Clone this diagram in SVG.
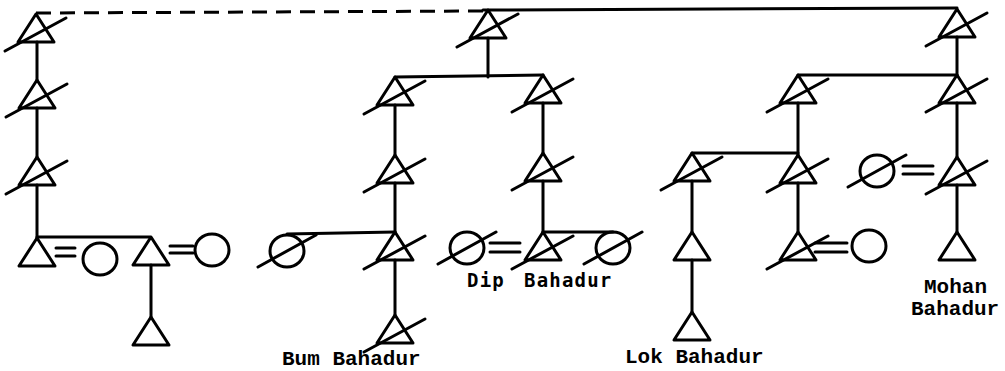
<svg xmlns="http://www.w3.org/2000/svg" xmlns:xlink="http://www.w3.org/1999/xlink" width="1005" height="371" viewBox="0 0 1005 371">
  <style>
    .ln { stroke: #000; stroke-width: 3; fill: none; stroke-linecap: round; }
    .dash { stroke: #000; stroke-width: 3; fill: none; stroke-dasharray: 15 9; }
    .lbl { font-family: "Liberation Mono", "Courier New", monospace; font-weight: bold; font-size: 21px; fill: #000; }
    .lbl2 { font-family: "DejaVu Sans Mono", monospace; font-weight: bold; font-size: 19px; fill: #000; letter-spacing: 1.2px; }
  </style>
  <defs>
    <!-- male: apex at origin -->
    <g id="male">
      <path class="ln" d="M0,0 L-18,28 L18,28 Z" stroke-linejoin="round"/>
    </g>
    <!-- deceased male -->
    <g id="maleD">
      <path class="ln" d="M0,0 L-18,28 L18,28 Z" stroke-linejoin="round"/>
      <line class="ln" x1="-31" y1="37" x2="30" y2="4"/>
    </g>
    <!-- female: centre at origin -->
    <g id="female">
      <ellipse class="ln" cx="0" cy="0" rx="17" ry="16"/>
    </g>
    <!-- deceased female -->
    <g id="femaleD">
      <ellipse class="ln" cx="0" cy="0" rx="17" ry="16"/>
      <line class="ln" x1="-29" y1="16" x2="29" y2="-16"/>
    </g>
  </defs>

  <g id="connectors">
    <!-- top line -->
    <line class="dash" x1="36" y1="13" x2="483" y2="11"/>
    <line class="ln" x1="483" y1="10" x2="957" y2="8"/>
    <!-- left line -->
    <line class="ln" x1="37" y1="42" x2="37" y2="80"/>
    <line class="ln" x1="37" y1="108" x2="37" y2="157"/>
    <line class="ln" x1="37" y1="185" x2="37" y2="238"/>
    <line class="ln" x1="37" y1="237" x2="150" y2="237"/>
    <line class="ln" x1="151" y1="265" x2="151" y2="317"/>
    <line class="ln" x1="56" y1="248" x2="75" y2="248"/>
    <line class="ln" x1="56" y1="256" x2="75" y2="256"/>
    <line class="ln" x1="170" y1="246" x2="193" y2="246"/>
    <line class="ln" x1="170" y1="253" x2="193" y2="253"/>
    <!-- centre line -->
    <line class="ln" x1="488" y1="38" x2="488" y2="77"/>
    <line class="ln" x1="395" y1="77" x2="543" y2="75"/>
    <line class="ln" x1="395" y1="105" x2="395" y2="155"/>
    <line class="ln" x1="395" y1="183" x2="395" y2="232"/>
    <line class="ln" x1="287" y1="234" x2="395" y2="232"/>
    <line class="ln" x1="395" y1="260" x2="395" y2="315"/>
    <line class="ln" x1="543" y1="103" x2="543" y2="153"/>
    <line class="ln" x1="543" y1="181" x2="543" y2="232"/>
    <line class="ln" x1="543" y1="232" x2="613" y2="232"/>
    <line class="ln" x1="490" y1="243" x2="520" y2="243"/>
    <line class="ln" x1="490" y1="252" x2="520" y2="252"/>
    <!-- right line -->
    <line class="ln" x1="957" y1="37" x2="957" y2="75"/>
    <line class="ln" x1="798" y1="75" x2="957" y2="75"/>
    <line class="ln" x1="798" y1="103" x2="798" y2="155"/>
    <line class="ln" x1="692" y1="153" x2="798" y2="153"/>
    <line class="ln" x1="692" y1="181" x2="692" y2="232"/>
    <line class="ln" x1="692" y1="260" x2="692" y2="312"/>
    <line class="ln" x1="798" y1="183" x2="798" y2="232"/>
    <line class="ln" x1="815" y1="243" x2="847" y2="243"/>
    <line class="ln" x1="815" y1="252" x2="847" y2="252"/>
    <line class="ln" x1="957" y1="103" x2="957" y2="157"/>
    <line class="ln" x1="903" y1="166" x2="933" y2="166"/>
    <line class="ln" x1="903" y1="174" x2="933" y2="174"/>
    <line class="ln" x1="957" y1="185" x2="957" y2="232"/>
  </g>

  <!-- left line nodes -->
  <g id="a1"><use xlink:href="#maleD" x="36" y="14"/></g>
  <g id="a2"><use xlink:href="#maleD" x="37" y="80"/></g>
  <g id="a3"><use xlink:href="#maleD" x="37" y="157"/></g>
  <g id="a4"><use xlink:href="#male" x="37" y="238"/></g>
  <g id="a4w"><use xlink:href="#female" x="100" y="259"/></g>
  <g id="a5"><use xlink:href="#male" x="151" y="237"/></g>
  <g id="a5w"><use xlink:href="#female" x="212" y="250"/></g>
  <g id="a6"><use xlink:href="#male" x="151" y="317"/></g>

  <!-- centre line nodes -->
  <g id="b1"><use xlink:href="#maleD" x="488" y="10"/></g>
  <g id="b2"><use xlink:href="#maleD" x="395" y="77"/></g>
  <g id="b3"><use xlink:href="#maleD" x="543" y="75"/></g>
  <g id="b4"><use xlink:href="#maleD" x="395" y="155"/></g>
  <g id="b5"><use xlink:href="#maleD" x="395" y="232"/></g>
  <g id="b5w"><use xlink:href="#femaleD" x="287" y="251"/></g>
  <g id="b6"><use xlink:href="#maleD" x="395" y="315"/>
    <text class="lbl" x="282" y="365">Bum Bahadur</text></g>
  <g id="b7"><use xlink:href="#maleD" x="543" y="153"/></g>
  <g id="b8"><use xlink:href="#maleD" x="543" y="232"/>
    <text class="lbl2" x="467" y="287">Dip</text>
    <text class="lbl2" x="524" y="287">Bahadur</text></g>
  <g id="b8w"><use xlink:href="#femaleD" x="467" y="248"/></g>
  <g id="b9"><use xlink:href="#femaleD" x="613" y="248"/></g>

  <!-- right line nodes -->
  <g id="c1"><use xlink:href="#maleD" x="957" y="9"/></g>
  <g id="c2"><use xlink:href="#maleD" x="957" y="75"/></g>
  <g id="c3"><use xlink:href="#maleD" x="798" y="75"/></g>
  <g id="c4"><use xlink:href="#maleD" x="692" y="153"/></g>
  <g id="c5"><use xlink:href="#maleD" x="798" y="155"/></g>
  <g id="c6"><use xlink:href="#male" x="692" y="232"/></g>
  <g id="c7"><use xlink:href="#male" x="692" y="312"/>
    <text class="lbl" x="625" y="363">Lok Bahadur</text></g>
  <g id="c8"><use xlink:href="#maleD" x="798" y="232"/></g>
  <g id="c8w"><use xlink:href="#female" x="869" y="246"/></g>
  <g id="c9"><use xlink:href="#maleD" x="957" y="157"/></g>
  <g id="c9w"><use xlink:href="#femaleD" x="877" y="171"/></g>
  <g id="c10"><use xlink:href="#male" x="957" y="232"/>
    <text class="lbl" x="924" y="293">Mohan</text>
    <text class="lbl" x="911" y="315">Bahadur</text></g>
</svg>
